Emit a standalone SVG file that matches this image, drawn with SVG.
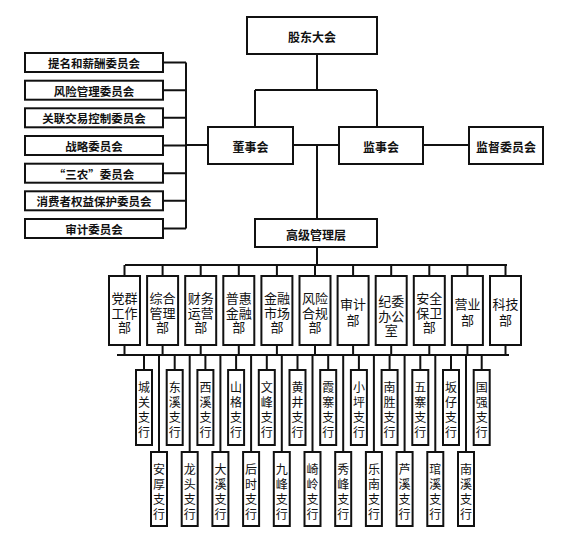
<svg xmlns="http://www.w3.org/2000/svg" width="568" height="549" viewBox="0 0 568 549">
<style>
.b{fill:#fff;stroke:#111;stroke-width:2}
.l{stroke:#111;stroke-width:2;fill:none}
text{font-family:"Noto Sans CJK SC","Liberation Sans",sans-serif;fill:#111;text-anchor:middle;dominant-baseline:central}
.t{font-size:12px;font-weight:bold}
.c{font-size:11.5px;font-weight:bold}
.d{font-size:13px}
.r{font-size:12px;writing-mode:vertical-rl;letter-spacing:3px}
</style>
<rect width="568" height="549" fill="#fff"/>
<g id="connectors">
<path class="l" d="M317 54V90M255 90H377M255 90V127M377 90V127"/>
<path class="l" d="M293 145H339M317 145V219M423 145H469"/>
<path class="l" d="M186 62.5V228.5M163 62.5H186M163 90.2H186M163 117.8H186M163 145.5H186M163 173.2H186M163 200.8H186M163 228.5H186M186 145H208"/>
<path class="l" d="M317 247V265M125 265H507"/>
<path class="l" d="M124.5 265V276M162.6 265V276M200.7 265V276M238.8 265V276M276.9 265V276M315 265V276M353.1 265V276M391.2 265V276M429.3 265V276M467.4 265V276M505.5 265V276"/>
<path class="l" d="M124.5 345V355M162.6 345V355M200.7 345V355M238.8 345V355M276.9 345V355M315 345V355M353.1 345V355M391.2 345V355M429.3 345V355M467.4 345V355M505.5 345V355M117 355H509"/>
<path class="l" d="M144 355V370M174.7 355V370M205.4 355V370M236.1 355V370M266.8 355V370M297.5 355V370M328.2 355V370M358.9 355V370M389.6 355V370M420.3 355V370M451 355V370M481.7 355V370"/>
<path class="l" d="M159 355V452M189.7 355V452M220.4 355V452M251.1 355V452M281.8 355V452M312.5 355V452M343.2 355V452M373.9 355V452M404.6 355V452M435.3 355V452M466 355V452"/>
</g>
<g id="gudong"><rect class="b" x="247" y="17" width="130" height="37"/><text class="t" x="312" y="36">股东大会</text></g>
<g id="dongshi"><rect class="b" x="208" y="127" width="85" height="37"/><text class="t" x="250.5" y="146">董事会</text></g>
<g id="jianshi"><rect class="b" x="339" y="127" width="84" height="37"/><text class="t" x="381" y="146">监事会</text></g>
<g id="jiandu"><rect class="b" x="469" y="127" width="74" height="37"/><text class="t" x="506" y="146">监督委员会</text></g>
<g id="gaoguan"><rect class="b" x="255" y="219" width="122" height="28"/><text class="t" x="316" y="234">高级管理层</text></g>
<g id="c1"><rect class="b" x="25" y="53" width="138" height="19"/><text class="c" x="94" y="63">提名和薪酬委员会</text></g>
<g id="c2"><rect class="b" x="25" y="80.7" width="138" height="19"/><text class="c" x="94" y="90.7">风险管理委员会</text></g>
<g id="c3"><rect class="b" x="25" y="108.3" width="138" height="19"/><text class="c" x="94" y="118.3">关联交易控制委员会</text></g>
<g id="c4"><rect class="b" x="25" y="136" width="138" height="19"/><text class="c" x="94" y="146">战略委员会</text></g>
<g id="c5"><rect class="b" x="25" y="163.7" width="138" height="19"/><text class="c" x="94" y="173.7">“三农”委员会</text></g>
<g id="c6"><rect class="b" x="25" y="191.3" width="138" height="19"/><text class="c" x="94" y="201.3">消费者权益保护委员会</text></g>
<g id="c7"><rect class="b" x="25" y="219" width="138" height="19"/><text class="c" x="94" y="229">审计委员会</text></g>
<g id="d1"><rect class="b" x="109" y="276" width="31" height="69"/><text class="d"><tspan x="124.5" y="297">党群</tspan><tspan x="124.5" y="311.5">工作</tspan><tspan x="124.5" y="326">部</tspan></text></g>
<g id="d2"><rect class="b" x="147.1" y="276" width="31" height="69"/><text class="d"><tspan x="162.6" y="297">综合</tspan><tspan x="162.6" y="311.5">管理</tspan><tspan x="162.6" y="326">部</tspan></text></g>
<g id="d3"><rect class="b" x="185.2" y="276" width="31" height="69"/><text class="d"><tspan x="200.7" y="297">财务</tspan><tspan x="200.7" y="311.5">运营</tspan><tspan x="200.7" y="326">部</tspan></text></g>
<g id="d4"><rect class="b" x="223.3" y="276" width="31" height="69"/><text class="d"><tspan x="238.8" y="297">普惠</tspan><tspan x="238.8" y="311.5">金融</tspan><tspan x="238.8" y="326">部</tspan></text></g>
<g id="d5"><rect class="b" x="261.4" y="276" width="31" height="69"/><text class="d"><tspan x="276.9" y="297">金融</tspan><tspan x="276.9" y="311.5">市场</tspan><tspan x="276.9" y="326">部</tspan></text></g>
<g id="d6"><rect class="b" x="299.5" y="276" width="31" height="69"/><text class="d"><tspan x="315" y="297">风险</tspan><tspan x="315" y="311.5">合规</tspan><tspan x="315" y="326">部</tspan></text></g>
<g id="d7"><rect class="b" x="337.6" y="276" width="31" height="69"/><text class="d"><tspan x="353.1" y="303">审计</tspan><tspan x="353.1" y="319">部</tspan></text></g>
<g id="d8"><rect class="b" x="375.7" y="276" width="31" height="69"/><text class="d"><tspan x="391.2" y="300">纪委</tspan><tspan x="391.2" y="314.5">办公</tspan><tspan x="391.2" y="329">室</tspan></text></g>
<g id="d9"><rect class="b" x="413.8" y="276" width="31" height="69"/><text class="d"><tspan x="429.3" y="297">安全</tspan><tspan x="429.3" y="311.5">保卫</tspan><tspan x="429.3" y="326">部</tspan></text></g>
<g id="d10"><rect class="b" x="451.9" y="276" width="31" height="69"/><text class="d"><tspan x="467.4" y="303">营业</tspan><tspan x="467.4" y="319">部</tspan></text></g>
<g id="d11"><rect class="b" x="490" y="276" width="31" height="69"/><text class="d"><tspan x="505.5" y="303">科技</tspan><tspan x="505.5" y="319">部</tspan></text></g>
<g id="s1"><rect class="b" x="136" y="370" width="16" height="75"/><text class="r" x="144" y="411">城关支行</text></g>
<g id="s2"><rect class="b" x="166.7" y="370" width="16" height="75"/><text class="r" x="174.7" y="411">东溪支行</text></g>
<g id="s3"><rect class="b" x="197.4" y="370" width="16" height="75"/><text class="r" x="205.4" y="411">西溪支行</text></g>
<g id="s4"><rect class="b" x="228.1" y="370" width="16" height="75"/><text class="r" x="236.1" y="411">山格支行</text></g>
<g id="s5"><rect class="b" x="258.8" y="370" width="16" height="75"/><text class="r" x="266.8" y="411">文峰支行</text></g>
<g id="s6"><rect class="b" x="289.5" y="370" width="16" height="75"/><text class="r" x="297.5" y="411">黄井支行</text></g>
<g id="s7"><rect class="b" x="320.2" y="370" width="16" height="75"/><text class="r" x="328.2" y="411">霞寨支行</text></g>
<g id="s8"><rect class="b" x="350.9" y="370" width="16" height="75"/><text class="r" x="358.9" y="411">小坪支行</text></g>
<g id="s9"><rect class="b" x="381.6" y="370" width="16" height="75"/><text class="r" x="389.6" y="411">南胜支行</text></g>
<g id="s10"><rect class="b" x="412.3" y="370" width="16" height="75"/><text class="r" x="420.3" y="411">五寨支行</text></g>
<g id="s11"><rect class="b" x="443" y="370" width="16" height="75"/><text class="r" x="451" y="411">坂仔支行</text></g>
<g id="s12"><rect class="b" x="473.7" y="370" width="16" height="75"/><text class="r" x="481.7" y="411">国强支行</text></g>
<g id="s13"><rect class="b" x="151" y="452" width="16" height="74"/><text class="r" x="159" y="493">安厚支行</text></g>
<g id="s14"><rect class="b" x="181.7" y="452" width="16" height="74"/><text class="r" x="189.7" y="493">龙头支行</text></g>
<g id="s15"><rect class="b" x="212.4" y="452" width="16" height="74"/><text class="r" x="220.4" y="493">大溪支行</text></g>
<g id="s16"><rect class="b" x="243.1" y="452" width="16" height="74"/><text class="r" x="251.1" y="493">后时支行</text></g>
<g id="s17"><rect class="b" x="273.8" y="452" width="16" height="74"/><text class="r" x="281.8" y="493">九峰支行</text></g>
<g id="s18"><rect class="b" x="304.5" y="452" width="16" height="74"/><text class="r" x="312.5" y="493">崎岭支行</text></g>
<g id="s19"><rect class="b" x="335.2" y="452" width="16" height="74"/><text class="r" x="343.2" y="493">秀峰支行</text></g>
<g id="s20"><rect class="b" x="365.9" y="452" width="16" height="74"/><text class="r" x="373.9" y="493">乐南支行</text></g>
<g id="s21"><rect class="b" x="396.6" y="452" width="16" height="74"/><text class="r" x="404.6" y="493">芦溪支行</text></g>
<g id="s22"><rect class="b" x="427.3" y="452" width="16" height="74"/><text class="r" x="435.3" y="493">琯溪支行</text></g>
<g id="s23"><rect class="b" x="458" y="452" width="16" height="74"/><text class="r" x="466" y="493">南溪支行</text></g>
</svg>
